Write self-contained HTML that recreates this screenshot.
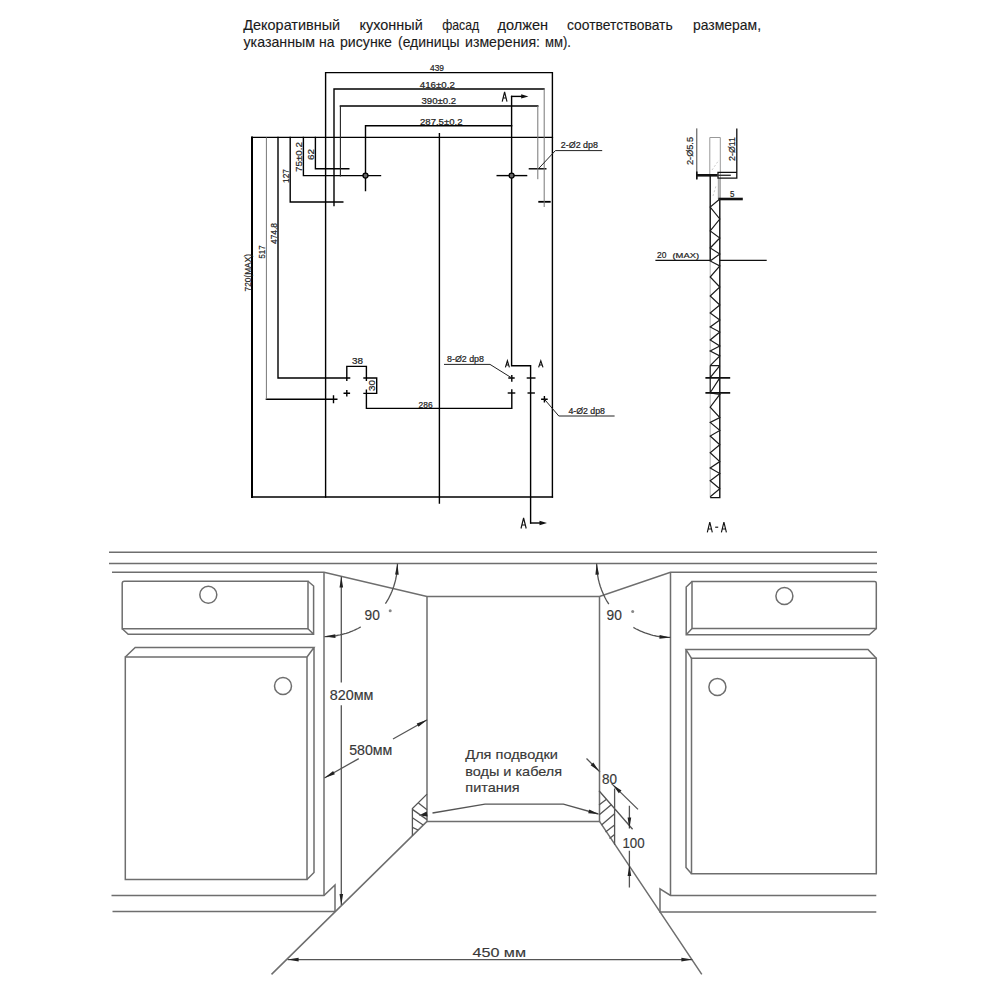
<!DOCTYPE html>
<html><head><meta charset="utf-8">
<style>
html,body{margin:0;padding:0;background:#fff;}
body{width:1000px;height:1000px;overflow:hidden;position:relative;font-family:"Liberation Sans",sans-serif;}
svg{position:absolute;left:0;top:0;}
</style></head><body>
<svg width="1000" height="1000" viewBox="0 0 1000 1000" font-family="Liberation Sans, sans-serif">
<rect width="1000" height="1000" fill="#fff"/>
<!-- header text -->
<g fill="#1a1a1a" font-size="14.6" stroke="#1a1a1a" stroke-width="0.12">
<text x="243.3" y="29.7" textLength="96.8" lengthAdjust="spacingAndGlyphs">Декоративный</text>
<text x="359.6" y="29.7" textLength="63.1" lengthAdjust="spacingAndGlyphs">кухонный</text>
<text x="442.2" y="29.7" textLength="37" lengthAdjust="spacingAndGlyphs">фасад</text>
<text x="497.5" y="29.7" textLength="50.6" lengthAdjust="spacingAndGlyphs">должен</text>
<text x="567" y="29.7" textLength="105.7" lengthAdjust="spacingAndGlyphs">соответствовать</text>
<text x="693" y="29.7" textLength="68" lengthAdjust="spacingAndGlyphs">размерам,</text>
<text x="243.5" y="46.6" textLength="71.5" lengthAdjust="spacingAndGlyphs">указанным</text>
<text x="319" y="46.6" textLength="15.5" lengthAdjust="spacingAndGlyphs">на</text>
<text x="340" y="46.6" textLength="52" lengthAdjust="spacingAndGlyphs">рисунке</text>
<text x="398" y="46.6" textLength="61.5" lengthAdjust="spacingAndGlyphs">(единицы</text>
<text x="465" y="46.6" textLength="75" lengthAdjust="spacingAndGlyphs">измерения:</text>
<text x="545" y="46.6" textLength="26" lengthAdjust="spacingAndGlyphs">мм).</text>

</g>

<!-- TOP DRAWING -->
<g stroke="#000" stroke-width="1.4" fill="none" stroke-linecap="square">
<!-- outer 439 rect -->
<path d="M325.6,497 V72.6 H552.4 V497"/>
<!-- big rect -->
<path d="M252,497 V137.4" stroke-width="2"/><path d="M252,137.4 H552.4 M252,497 H552.4"/>
<!-- center line -->
<path d="M439.4,133.6 V503"/>
<!-- 416 -->
<path d="M334,205.6 V89 H544"/>
<!-- 390 -->
<path d="M340.4,106 H537.8"/>
<!-- 287.5 -->
<path d="M365.5,190.5 V125.8 H511.6"/>
<!-- section line -->
<path d="M511.6,96.4 V365.8 H530.6 V523"/>
<path d="M511.6,96.4 H522"/>
<path d="M531,523 H541"/>
<!-- left dims -->
<path d="M278,137.4 V378 H349.6"/>
<path d="M290.2,137.4 V202 H342.8"/>
<path d="M303.4,137.4 V175.6 H380.5"/>
<path d="M315.4,137.4 V168.8 H348.8"/>
<path d="M497.2,175.6 H526.6"/>
<path d="M529.4,168.8 H545.8"/>
<path d="M539.2,201.8 H549.8" stroke-width="1.8"/>
<path d="M266.4,399.3 H336.8 M333.5,396 V402.6"/>
<!-- bracket 38/30 -->
<path d="M346.8,380.4 V366.4 H366.4 V380.4"/>
<path d="M364,378 H376.7 V393.4 H364"/>
<path d="M366.4,390.2 V408.4 H511.8 V390"/>
<path d="M344.2,393.2 H349.4 M346.8,390.6 V395.8"/>
<path d="M509,378 H514 M511.8,375.6 V381"/>
<path d="M508.4,393 H514.6"/>
<path d="M527.4,378 H534.8"/>
<path d="M528.2,393 H534.2"/>
<path d="M541.8,399.2 H547 M544.4,396.6 V401.8"/>
</g>
<g stroke="#777" stroke-width="1" fill="none">
<path d="M266.4,137.4 V399.3"/>
<path d="M544.2,89 V207"/>

<path d="M537.8,106 V179.2"/>
</g>
<g stroke="#222" stroke-width="1" fill="none">
<path d="M538.4,168.8 L555.4,150.6 H602.2"/>
<path d="M444,364.4 H490 L511.8,378"/>
<path d="M544.4,399.2 L558.8,416 H614.6"/>
</g>
<g fill="#111">

<path d="M521.2,94.2 L528.4,96.4 L521.2,98.6Z"/>
<path d="M539.5,520.8 L547,523 L539.5,525.2Z"/>
</g>
<g stroke="#000" stroke-width="1.3" fill="none">
<circle cx="365.5" cy="175.6" r="2.5" fill="#666"/>
<circle cx="511.6" cy="175.6" r="2.5" fill="#666"/>
<path d="M340.4,106 V176.5" stroke="#222" stroke-width="1.1"/>
</g>
<g fill="#222" font-size="8.6" stroke="#222" stroke-width="0.2">
<text x="430" y="71" textLength="14" lengthAdjust="spacingAndGlyphs">439</text>
<text x="419.8" y="87.6" textLength="35" lengthAdjust="spacingAndGlyphs">416±0.2</text>
<text x="421.5" y="103.7" textLength="34.7" lengthAdjust="spacingAndGlyphs">390±0.2</text>
<text x="420" y="124.7" textLength="42.5" lengthAdjust="spacingAndGlyphs">287.5±0.2</text>
<text x="560.8" y="148" textLength="37.2" lengthAdjust="spacingAndGlyphs">2-Ø2 dp8</text>
<text x="447" y="361.6" textLength="37" lengthAdjust="spacingAndGlyphs">8-Ø2 dp8</text>
<text x="568.4" y="413.6" textLength="36.6" lengthAdjust="spacingAndGlyphs">4-Ø2 dp8</text>
<text x="352" y="363.8" textLength="11" lengthAdjust="spacingAndGlyphs">38</text>
<text x="418.6" y="408" textLength="14" lengthAdjust="spacingAndGlyphs">286</text>
<g transform="translate(251,291.5) rotate(-90)"><text x="0" y="0" textLength="37.5" lengthAdjust="spacingAndGlyphs">720(MAX)</text></g>
<g transform="translate(265,258.5) rotate(-90)"><text x="0" y="0" textLength="13" lengthAdjust="spacingAndGlyphs">517</text></g>
<g transform="translate(276.5,244) rotate(-90)"><text x="0" y="0" textLength="21" lengthAdjust="spacingAndGlyphs">474.8</text></g>
<g transform="translate(288.6,183) rotate(-90)"><text x="0" y="0" textLength="14" lengthAdjust="spacingAndGlyphs">127</text></g>
<g transform="translate(302.4,172) rotate(-90)"><text x="0" y="0" textLength="30" lengthAdjust="spacingAndGlyphs">75±0.2</text></g>
<g transform="translate(314,160) rotate(-90)"><text x="0" y="0" textLength="11" lengthAdjust="spacingAndGlyphs">62</text></g>
<g transform="translate(375.3,391) rotate(-90)"><text x="0" y="0" textLength="11" lengthAdjust="spacingAndGlyphs">30</text></g>
</g>

<!-- SECTION VIEW A-A -->
<g fill="none" stroke-linecap="butt">
<path d="M709.8,137.5 H720.3 V199 M709.8,137.5 V175" stroke="#999" stroke-width="1"/>
<path d="M710.2,392.8 V497.6 M710.2,260.3 V365.6" stroke="#aaa" stroke-width="0.9"/>
<path d="M696.8,128.4 V178.8" stroke="#444" stroke-width="1"/>
<path d="M718.8,178.5 V199" stroke="#aaa" stroke-width="2"/>
<path d="M712,170 L719,160 M713,196 L716,186" stroke="#ccc" stroke-width="1" stroke-dasharray="2,2"/>
<path d="M736.8,128.4 V178.2 H718 V172.4 H736.8" stroke="#111" stroke-width="1.3"/>
<path d="M696.8,175.3 H717.6" stroke="#111" stroke-width="2.6"/>
<path d="M717.6,175.3 H730.8" stroke="#333" stroke-width="1.4"/>
<path d="M696.8,171.5 V179.5" stroke="#111" stroke-width="1.6"/>
<path d="M710.2,175.3 V260.3" stroke="#111" stroke-width="1.4"/>
<path d="M719.8,199 V497.6 H710.2" stroke="#111" stroke-width="1.4"/>
<path d="M718.4,199 H742.8" stroke="#111" stroke-width="2.6"/>
<path d="M655.4,260.3 H710.2 M719.8,260.3 H766.7" stroke="#111" stroke-width="1.3"/>
<path d="M719.8,199 L710.2,207 L719.8,219 L710.2,231 L719.8,238 L710.2,248 L719.8,254 L710.2,261 L719.8,266 L710.2,277 L719.8,287 L710.2,296 L719.8,305 L710.2,313 L719.8,320 L710.2,327 L719.8,332 L710.2,340 L719.8,346 L710.2,351 L719.8,356 L710.2,365.6" stroke="#1a1a1a" stroke-width="1.2"/>
<path d="M710.2,392.8 L719.8,394.4 L710.2,407.2 L719.8,417.6 L710.2,422.4 L719.8,430.4 L710.2,436 L719.8,444.8 L710.2,452.8 L719.8,461.6 L710.2,468 L719.8,473.6 L710.2,480.8 L719.8,488.8 L710.2,496.8" stroke="#1a1a1a" stroke-width="1.2"/>
<path d="M710.2,365.6 H719.8 M710.2,365.6 V392.8 M710.2,377.6 L719.8,365.6 M710.2,392.8 L719.8,377.9" stroke="#1a1a1a" stroke-width="1.2"/>
<path d="M705.4,377.9 H730.2 M705.4,392.8 H730.2" stroke="#111" stroke-width="1.8"/>
</g>
<g fill="#222" font-size="8.8" stroke="#222" stroke-width="0.2">
<text x="657" y="258.2" textLength="9.4" lengthAdjust="spacingAndGlyphs">20</text><text x="672.5" y="258.2" font-size="8" textLength="26.5" lengthAdjust="spacingAndGlyphs">(MAX)</text>
<text x="730" y="197.4" font-size="8.5" textLength="4.4" lengthAdjust="spacingAndGlyphs">5</text>
<g transform="translate(693.4,165) rotate(-90)"><text x="0" y="0" textLength="28" lengthAdjust="spacingAndGlyphs">2-Ø5.5</text></g>
<g transform="translate(735,161) rotate(-90)"><text x="0" y="0" textLength="24" lengthAdjust="spacingAndGlyphs">2-Ø11</text></g>
</g>
<g stroke="#111" stroke-width="1.15" fill="none" stroke-linejoin="miter">
<path d="M502.2,101.6 L504.6,92 L507,101.6 M503,98 H506.2"/>
<path d="M505.4,367.4 L507.4,360.8 L509.4,367.4 M506,365 H508.8"/>
<path d="M538.6,367.4 L540.8,360.8 L543,367.4 M539.2,365 H542.4"/>
<path d="M521,528.5 L523.6,518 L526.2,528.5 M521.8,525 H525.4"/>
<path d="M707.3,532.4 L709.8,522.2 L712.3,532.4 M708.1,529 H711.5"/>
<path d="M715.2,527.2 H718.2"/>
<path d="M721.4,532.4 L723.9,522.2 L726.4,532.4 M722.2,529 H725.6"/>
</g>

<!-- BOTTOM DRAWING -->
<g stroke="#6e6e6e" stroke-width="1.5" fill="none" stroke-linejoin="miter">
<path d="M109,552.2 H877 M109,563.6 H877"/>
<path d="M112,572.2 H324 L427,596.5 H599.5 L670.5,572.2 H877"/>
<path d="M324,572.2 V895.5 M427,596.5 V821.4 H599.5 V596.5 M670.5,572.2 V895.5"/>
<path d="M427,821.4 L271.5,974.4 M599.5,821.4 L701.8,974.4"/>
<!-- left plinth -->
<path d="M111.5,895.5 H324 L335,885 V911.5 M112.5,911.5 H335"/>
<!-- right plinth -->
<path d="M876.3,895.5 H670.5 L660,888.8 V912 H876.3"/>
<!-- left drawer -->
<path d="M122.2,628.8 V583.5 Q122.2,581.3 124.4,581.3 H308 V628.8 Z"/>
<path d="M308,581.3 L313.6,586 V634.2 H128.2 L122.2,628.8 M308,628.8 L313.6,634.2"/>
<!-- left door -->
<path d="M125.3,879.5 V657 H307 V879.5 Z"/>
<path d="M125.3,657 L135.2,647.5 H314 L307,657 M314,647.5 V872.5 L307,879.5"/>
<!-- right drawer -->
<path d="M692,628.5 V581.5 H874.3 Q876.3,581.3 876.3,583.5 V628.5 Z"/>
<path d="M692,581.5 L686.2,587 V634.8 H869.3 L876.3,628.5 M686.2,634.8 L692,628.5"/>
<!-- right door -->
<path d="M691.5,873.8 V658.3 H876.3 V873.8 Z"/>
<path d="M691.5,658.3 L686,649.6 H868 L876.3,658.3 M686,649.6 V867.5 L691.5,873.8"/>
<circle cx="208.3" cy="594.8" r="8.5"/>
<circle cx="283" cy="686" r="8.5"/>
<circle cx="784.4" cy="596" r="8.5"/>
<circle cx="717.4" cy="686.9" r="8.5"/>
</g>

<!-- BOTTOM ANNOTATIONS -->
<g>
<path d="M341.3,576.5 V682.6 M341.3,705.3 V905" stroke="#555" stroke-width="1.3" fill="none"/>
<path d="M341.3,576.5 L343.1,587.5 L339.5,587.5Z" fill="#222" stroke="none"/>
<path d="M341.3,905.0 L339.5,894.0 L343.1,894.0Z" fill="#222" stroke="none"/>
<path d="M397.4,563.6 L397.4,565.4 L397.3,567.1 L397.2,568.9 L397.1,570.7 L396.9,572.4 L396.6,574.2 L396.4,575.9 L396.0,577.7 L395.7,579.4 L395.3,581.1 L394.8,582.8 L394.3,584.5 L393.8,586.2 L393.2,587.9 L392.6,589.5 L392.0,591.2 L391.3,592.8 L390.6,594.4 L389.8,596.0 L389.0,597.6 L388.2,599.1 L387.3,600.7 L386.4,602.2 L385.4,603.7" stroke="#555" stroke-width="1.3" fill="none"/>
<path d="M397.4,563.6 L398.7,574.7 L395.1,574.5Z" fill="#222" stroke="none"/>
<path d="M360.7,626.9 L359.3,627.7 L357.9,628.5 L356.5,629.2 L355.1,629.8 L353.6,630.5 L352.2,631.1 L350.7,631.7 L349.2,632.3 L347.7,632.8 L346.2,633.3 L344.7,633.7 L343.2,634.1 L341.6,634.5 L340.1,634.9 L338.5,635.2 L337.0,635.5 L335.4,635.8 L333.9,636.0 L332.3,636.2 L330.7,636.3 L329.1,636.4 L327.6,636.5 L326.0,636.6 L324.4,636.6" stroke="#555" stroke-width="1.3" fill="none"/>
<path d="M324.4,636.6 L335.3,634.3 L335.5,637.9Z" fill="#222" stroke="none"/>
<path d="M596.7,563.6 L596.7,565.4 L596.8,567.2 L596.9,569.0 L597.0,570.7 L597.2,572.5 L597.5,574.3 L597.8,576.1 L598.1,577.8 L598.4,579.6 L598.9,581.3 L599.3,583.0 L599.8,584.7 L600.3,586.5 L600.9,588.1 L601.5,589.8 L602.2,591.5 L602.9,593.1 L603.6,594.8 L604.4,596.4 L605.2,598.0 L606.0,599.5 L606.9,601.1 L607.9,602.6 L608.8,604.1" stroke="#555" stroke-width="1.3" fill="none"/>
<path d="M596.7,563.6 L599.0,574.5 L595.4,574.7Z" fill="#222" stroke="none"/>
<path d="M633.4,627.4 L634.8,628.2 L636.2,629.0 L637.7,629.7 L639.1,630.4 L640.6,631.1 L642.1,631.7 L643.6,632.3 L645.1,632.9 L646.6,633.4 L648.2,633.9 L649.7,634.4 L651.3,634.9 L652.8,635.3 L654.4,635.6 L656.0,636.0 L657.6,636.3 L659.2,636.5 L660.8,636.8 L662.4,637.0 L664.0,637.1 L665.6,637.2 L667.3,637.3 L668.9,637.4 L670.5,637.4" stroke="#555" stroke-width="1.3" fill="none"/>
<path d="M670.5,637.4 L659.4,638.7 L659.6,635.1Z" fill="#222" stroke="none"/>
<path d="M393,739 L427.2,719.8 M358.8,758.6 L324.4,778" stroke="#555" stroke-width="1.3" fill="none"/>
<path d="M427.2,719.8 L418.5,726.8 L416.7,723.6Z" fill="#222" stroke="none"/>
<path d="M324.4,778.0 L333.1,771.0 L334.9,774.2Z" fill="#222" stroke="none"/>
<path d="M432.5,813 L485,804.2 H563.4 L598.4,814" stroke="#555" stroke-width="1.3" fill="none"/>
<path d="M418.8,815.5 L426.7,811.5 L427.6,816.6Z" fill="#222" stroke="none"/>
<path d="M598.4,814.0 L588.2,813.2 L589.3,809.4Z" fill="#222" stroke="none"/>
<path d="M427,794.1 L412.4,808.5 V835.8" stroke="#555" stroke-width="1.3" fill="none"/>
<path d="M418.4,803.1 L427,809.7 M412.4,809.4 L427,819.6 M412.4,817.8 L423.2,825 M412.4,827.4 L418.1,830" stroke="#555" stroke-width="1.3" fill="none"/>
<path d="M599,790.8 L632.6,829.2 M614.6,788.4 V844.8" stroke="#555" stroke-width="1.3" fill="none"/>
<path d="M599,805 L606.5,799.2 M599,815 L611.5,804.6 M601.5,825 L614.6,813.8 M605.5,832 L614.6,825 M609.5,838.5 L614.6,834.5" stroke="#555" stroke-width="1.3" fill="none"/>
<path d="M586.5,758.5 L600,772 M611.6,783.6 L638,809.4" stroke="#555" stroke-width="1.3" fill="none"/>
<path d="M599.0,771.0 L590.6,765.3 L593.3,762.6Z" fill="#222" stroke="none"/>
<path d="M613.0,785.0 L621.5,790.6 L618.8,793.3Z" fill="#222" stroke="none"/>
<path d="M629.4,805.8 V828.5 M629.4,850.8 V887.4" stroke="#555" stroke-width="1.3" fill="none"/>
<path d="M629.4,828.5 L627.6,817.5 L631.2,817.5Z" fill="#222" stroke="none"/>
<path d="M629.4,865.0 L631.2,876.0 L627.6,876.0Z" fill="#222" stroke="none"/>
<path d="M287.6,959.6 H692.4" stroke="#555" stroke-width="1.3" fill="none"/>
<path d="M287.6,959.6 L298.6,957.8 L298.6,961.4Z" fill="#222" stroke="none"/>
<path d="M692.4,959.6 L681.4,961.4 L681.4,957.8Z" fill="#222" stroke="none"/>
<text x="329.8" y="700.1" fill="#383838" stroke="#383838" stroke-width="0.15" font-size="14.5" textLength="43.7" lengthAdjust="spacingAndGlyphs">820мм</text>
<text x="349.2" y="755.2" fill="#383838" stroke="#383838" stroke-width="0.15" font-size="14.5" textLength="43.2" lengthAdjust="spacingAndGlyphs">580мм</text>
<text x="364.6" y="619.6" fill="#383838" stroke="#383838" stroke-width="0.15" font-size="14.5" textLength="15.3" lengthAdjust="spacingAndGlyphs">90</text>
<text x="606.6" y="620.3" fill="#383838" stroke="#383838" stroke-width="0.15" font-size="14.5" textLength="15.3" lengthAdjust="spacingAndGlyphs">90</text>
<circle cx="390.2" cy="610.8" r="1.5" fill="#888"/>
<circle cx="632.7" cy="611.5" r="1.5" fill="#888"/>
<text x="602" y="783.5" fill="#383838" stroke="#383838" stroke-width="0.15" font-size="14.5" textLength="15" lengthAdjust="spacingAndGlyphs">80</text>
<text x="622.4" y="848.4" fill="#383838" stroke="#383838" stroke-width="0.15" font-size="14.5" textLength="22.2" lengthAdjust="spacingAndGlyphs">100</text>
<text x="472.5" y="956.5" fill="#383838" stroke="#383838" stroke-width="0.15" font-size="13.5" textLength="53.5" lengthAdjust="spacingAndGlyphs">450 мм</text>
<text x="465.3" y="759.2" fill="#383838" stroke="#383838" stroke-width="0.15" font-size="13.5" textLength="92.6" lengthAdjust="spacingAndGlyphs">Для подводки</text>
<text x="465.3" y="775.8" fill="#383838" stroke="#383838" stroke-width="0.15" font-size="13.5" textLength="96.8" lengthAdjust="spacingAndGlyphs">воды и кабеля</text>
<text x="465.3" y="792.3" fill="#383838" stroke="#383838" stroke-width="0.15" font-size="13.5" textLength="54.3" lengthAdjust="spacingAndGlyphs">питания</text>
</g>
</svg>
</body></html>
